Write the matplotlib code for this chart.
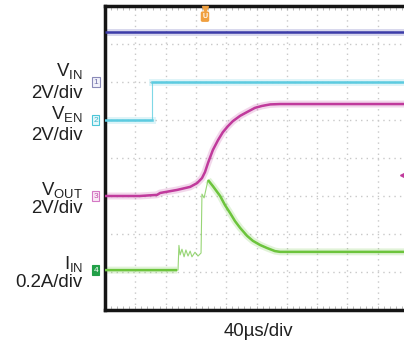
import matplotlib
matplotlib.use("Agg")
import matplotlib.pyplot as plt
import numpy as np

plt.rcParams['font.family'] = ['Liberation Sans', 'DejaVu Sans']
plt.rcParams['mathtext.fontset'] = 'custom'
plt.rcParams['mathtext.rm'] = 'Liberation Sans'
plt.rcParams['mathtext.it'] = 'Liberation Sans'

# scope traces, in divisions (x: 0..10, y: 0..8)
vin_t = [0, 10]
vin_v = [7.32, 7.32]

ven_t = [0, 1.55, 1.55, 10]
ven_v = [5.0, 5.0, 6.0, 6.0]

vout_t = [0, 1.15, 1.72, 1.82, 2.38, 2.81, 3.04, 3.20, 3.30, 3.40, 3.56, 3.73, 3.89, 4.06,
          4.22, 4.46, 4.69, 4.95, 5.18, 5.45, 5.78, 10]
vout_v = [3.0, 3.0, 3.03, 3.08, 3.16, 3.24, 3.34, 3.47, 3.63, 3.87, 4.21, 4.47, 4.68, 4.84,
          4.97, 5.11, 5.21, 5.32, 5.37, 5.41, 5.42, 5.42]

iin_t = [0, 2.38, 2.41, 2.44, 2.48, 2.54, 2.61, 2.67, 2.74, 2.81, 2.87, 2.97, 3.07, 3.17,
         3.20, 3.27, 3.40, 3.56, 3.80, 3.96, 4.13, 4.29, 4.46, 4.69, 4.88, 5.12, 5.35,
         5.61, 5.78, 10]
iin_v = [1.05, 1.05, 1.05, 1.70, 1.45, 1.60, 1.40, 1.58, 1.42, 1.55, 1.40, 1.52, 1.42, 1.50,
         3.05, 2.95, 3.42, 3.26, 3.00, 2.76, 2.55, 2.34, 2.16, 1.95, 1.82, 1.71, 1.63,
         1.55, 1.53, 1.53]

labels = [('V$_{\\mathrm{IN}}$', 76), ('2V/div', 98),
          ('V$_{\\mathrm{EN}}$', 119), ('2V/div', 140),
          ('V$_{\\mathrm{OUT}}$', 195), ('2V/div', 213),
          ('I$_{\\mathrm{IN}}$', 269), ('0.2A/div', 287)]

W, H = 404, 348
fig = plt.figure(figsize=(W / 100, H / 100), dpi=100)
fig.patch.set_facecolor('white')
ax = fig.add_axes([105 / W, 38 / H, 303 / W, 304 / H])
ax.set_xlim(0, 10)
ax.set_ylim(0, 8)

# graticule
for x in range(1, 10):
    ax.axvline(x, color='#c8c8c8', lw=1, ls=(0, (1, 3)), zorder=0)
for y in range(1, 8):
    ax.axhline(y, color='#c8c8c8', lw=1, ls=(0, (1, 3)), zorder=0)
ax.set_xticks([])
ax.set_yticks([])
ax.set_xticks(np.arange(0, 10.01, 0.2), minor=True)
ax.tick_params(axis='x', which='minor', direction='in', top=True, bottom=True,
               length=3, color='#b0b0b0', labelbottom=False)
for s in ['left', 'top', 'bottom']:
    ax.spines[s].set_linewidth(2.5)
    ax.spines[s].set_color('#151515')
ax.spines['right'].set_visible(False)


def trace(t, v, color, thick_mask=None):
    t = np.array(t, dtype=float)
    v = np.array(v, dtype=float)
    ax.plot(t, v, color=color, lw=0.8, alpha=0.7, zorder=2)
    vt = v.copy()
    if thick_mask is not None:
        vt[~thick_mask] = np.nan
    ax.plot(t, vt, color=color, lw=5, alpha=0.2, zorder=2, solid_capstyle='butt')
    ax.plot(t, vt, color=color, lw=1.8, zorder=3, solid_capstyle='butt')


trace(vin_t, vin_v, '#3c3ca8')
# ven: the rising edge is thin
ven_tt = [0, 1.55, np.nan, 1.55, 10]
ven_vv = [5.0, 5.0, np.nan, 6.0, 6.0]
ax.plot(ven_t, ven_v, color='#7fd8e6', lw=0.8, zorder=2)
ax.plot(ven_tt, ven_vv, color='#5ccbe0', lw=5, alpha=0.2, zorder=2)
ax.plot(ven_tt, ven_vv, color='#5ccbe0', lw=1.8, zorder=3)
trace(vout_t, vout_v, '#c03a9c')
iin_mask = np.array([t <= 2.39 or t >= 3.39 for t in iin_t])
trace(iin_t, iin_v, '#6cc43c', iin_mask)

# channel markers
marks = [('1', 6.0, '#8a8ab8', '#f2f2fa', '#7070a8'),
         ('2', 5.0, '#4cc6d8', '#e6f8fb', '#3ab4c8'),
         ('3', 3.0, '#d478c4', '#fbe8f6', '#c050a8'),
         ('4', 1.05, '#22a048', '#22a048', 'white')]
for txt, y, ec, fc, tc in marks:
    ax.text(-0.3, y, txt, ha='center', va='center', fontsize=6, color=tc,
            clip_on=False, zorder=5,
            bbox=dict(boxstyle='square,pad=0.15', fc=fc, ec=ec, lw=0.8))

# trigger marker
ax.plot([3.3], [7.93], marker='v', ms=4, color='#f0a040', clip_on=False, zorder=5)
ax.text(3.3, 7.72, 'U', ha='center', va='center', fontsize=5, color='white',
        fontweight='bold', zorder=5,
        bbox=dict(boxstyle='round,pad=0.15', fc='#f0a040', ec='#f0a040'))
ax.plot([9.85], [3.55], marker='<', ms=4, color='#c03a9c', clip_on=False, zorder=5)

# labels
for txt, yb in labels:
    fig.text(83 / W, 1 - yb / H, txt, ha='right', va='baseline', fontsize=13.4,
             color='#202020')
fig.text(258 / W, 1 - 336 / H, '40µs/div', ha='center', va='baseline',
         fontsize=13.4, color='#202020')

fig.savefig('out.png', dpi=100)
